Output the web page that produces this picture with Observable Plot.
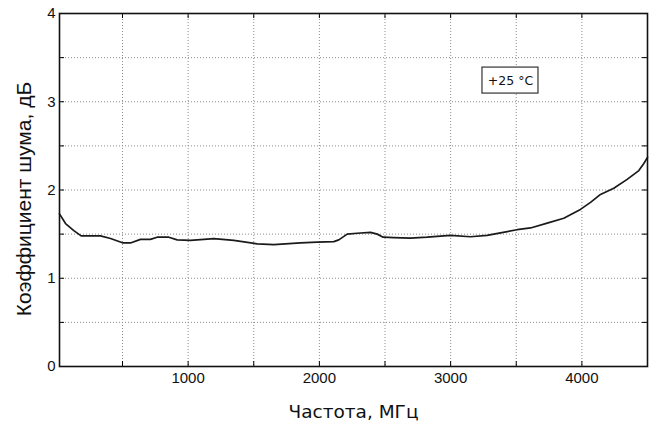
<!DOCTYPE html>
<html>
<head>
<meta charset="utf-8">
<script src="https://cdn.jsdelivr.net/npm/d3@7"></script>
<script src="https://cdn.jsdelivr.net/npm/@observablehq/plot@0.6"></script>
<style>
  html, body { margin: 0; padding: 0; background: #fff; }
  #chart svg { display: block; }
</style>
</head>
<body>
<div id="chart"></div>
<script>
// Frequency, MHz
const freq = [20, 66, 129, 185, 260, 332, 409, 505, 561, 637, 713, 764, 853, 917, 1018, 1196, 1348, 1526, 1653, 1856, 1983, 2110, 2148, 2212, 2288, 2390, 2441, 2486, 2567, 2694, 2821, 2999, 3151, 3278, 3380, 3507, 3609, 3736, 3862, 3989, 4066, 4142, 4243, 4345, 4434, 4472, 4500];
// Noise figure, dB
const noise = [1.73, 1.62, 1.54, 1.48, 1.48, 1.48, 1.45, 1.40, 1.40, 1.44, 1.44, 1.465, 1.465, 1.435, 1.43, 1.45, 1.43, 1.39, 1.38, 1.40, 1.41, 1.415, 1.435, 1.50, 1.51, 1.52, 1.50, 1.465, 1.46, 1.455, 1.465, 1.485, 1.47, 1.485, 1.515, 1.55, 1.57, 1.625, 1.68, 1.78, 1.86, 1.95, 2.02, 2.12, 2.22, 2.30, 2.37];

const xDomain = [20, 4500];
const yDomain = [0, 4];
const xTickLabels = [1000, 2000, 3000, 4000];
const xTicks = [500, 1000, 1500, 2000, 2500, 3000, 3500, 4000, 4500];
const yTickLabels = [0, 1, 2, 3, 4];
const yTicks = [0.5, 1, 1.5, 2, 2.5, 3, 3.5];
const xTitle = "Частота, МГц";
const yTitle = "Коэффициент шума, дБ";
const note = ["+25 °C"];
const noteX = 3456, noteY = 3.24;

const data = freq.map((f, i) => ({f, v: noise[i]}));

const W = 661, H = 436;
const mL = 59, mR = 14, mT = 13, mB = 70;
const plotW = W - mL - mR, plotH = H - mT - mB;
const tick = 5;
const tickX = tick * (xDomain[1] - xDomain[0]) / plotW; // tick length in x data units
const tickY = tick * (yDomain[1] - yDomain[0]) / plotH; // tick length in y data units
const xTicksIn = xTicks.filter(d => d < xDomain[1]);
const SANS = "'Liberation Sans', Arial, sans-serif";
const DEJAVU = "'DejaVu Sans', sans-serif";

const chart = Plot.plot({
  width: W, height: H,
  marginLeft: mL, marginRight: mR, marginTop: mT, marginBottom: mB,
  style: {fontFamily: SANS, background: "#fff"},
  x: {domain: xDomain},
  y: {domain: yDomain},
  marks: [
    // dotted grid
    Plot.ruleX(xTicksIn, {x: d => d, stroke: "#8c8c8c", strokeWidth: 1, strokeDasharray: "1,2"}),
    Plot.ruleY(yTicks, {y: d => d, stroke: "#8c8c8c", strokeWidth: 1, strokeDasharray: "1,2"}),
    // inward ticks
    Plot.ruleX(xTicksIn, {x: d => d, y1: yDomain[0], y2: yDomain[0] + tickY, stroke: "#000"}),
    Plot.ruleX(xTicksIn, {x: d => d, y1: yDomain[1], y2: yDomain[1] - tickY, stroke: "#000"}),
    Plot.ruleY(yTicks, {y: d => d, x1: xDomain[0], x2: xDomain[0] + tickX, stroke: "#000"}),
    Plot.ruleY(yTicks, {y: d => d, x1: xDomain[1], x2: xDomain[1] - tickX, stroke: "#000"}),
    // tick labels
    Plot.axisX(xTickLabels, {tickSize: 0, tickPadding: 6, fontSize: 15, label: null, fill: "#111",
      tickFormat: d => String(d), fontFamily: SANS}),
    Plot.axisY(yTickLabels, {tickSize: 0, tickPadding: 4, fontSize: 15, label: null, fill: "#111",
      tickFormat: d => String(d), fontFamily: SANS}),
    // curve
    Plot.line(data, {x: "f", y: "v", stroke: "#1a1a1a", strokeWidth: 1.7}),
    // frame
    Plot.frame({stroke: "#111", strokeWidth: 1.6}),
    // annotation box
    Plot.rect(note, {x1: noteX, x2: noteX, y1: noteY, y2: noteY,
      insetLeft: -28, insetRight: -28, insetTop: -13, insetBottom: -13,
      fill: "#fff", stroke: "#333", strokeWidth: 1.2}),
    Plot.text(note, {x: noteX, y: noteY, text: d => d, fontSize: 12.5, fill: "#111",
      fontFamily: DEJAVU}),
    // titles
    Plot.text([xTitle], {frameAnchor: "bottom", dy: 46, text: d => d, fontSize: 18.5,
      fontFamily: DEJAVU, fill: "#111", lineAnchor: "middle", textAnchor: "middle"}),
    Plot.text([yTitle], {frameAnchor: "left", dx: -35, dy: 9, rotate: -90, text: d => d,
      fontSize: 21, fill: "#111", lineAnchor: "middle", textAnchor: "middle", fontFamily: SANS})
  ]
});
document.getElementById("chart").appendChild(chart);
</script>
</body>
</html>
